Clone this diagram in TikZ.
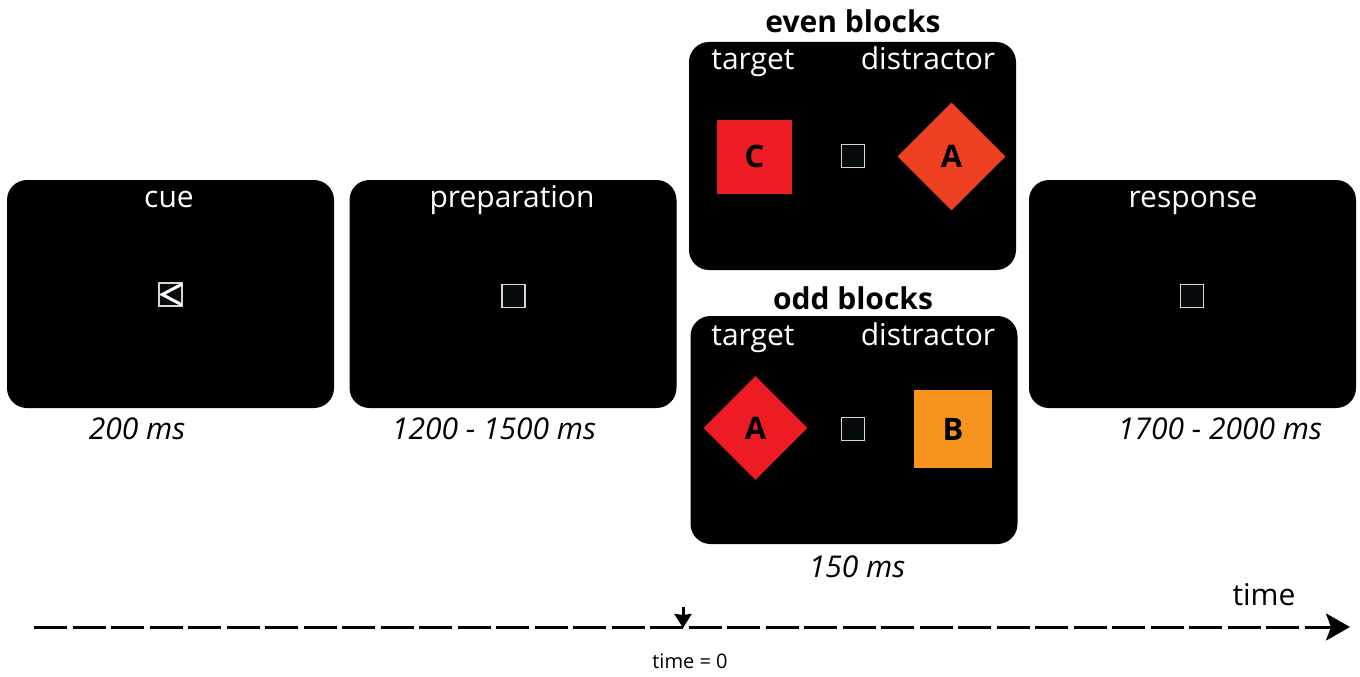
\documentclass[tikz,border=0pt]{standalone}
\usepackage{fontspec}
\setmainfont{Open Sans}
\usepackage{xcolor}
\definecolor{stimRed}{RGB}{237, 28, 36}
\definecolor{stimVermilion}{RGB}{239, 64, 35}
\definecolor{stimOrange}{RGB}{247, 148, 29}
\definecolor{fixGrey}{RGB}{214, 214, 214}
\definecolor{fixFill}{RGB}{6, 11, 13}
\usetikzlibrary{positioning,shapes,arrows.meta}

\tikzset{
  screen/.style={fill=black, rounded corners=20pt, minimum width=327pt, minimum height=228pt, inner sep=0pt},
  screenlabel/.style={text=white, font=\fontsize{30}{36}\selectfont, inner sep=0pt, anchor=base},
  blocklabel/.style={font=\fontsize{30}{36}\selectfont\bfseries, inner sep=0pt, anchor=base},
  duration/.style={font=\fontsize{30}{36}\selectfont\itshape, inner sep=0pt, anchor=base},
  fixation/.style={draw=fixGrey, fill=fixFill, line width=1.5pt, minimum size=23pt, inner sep=0pt},
  squarestim/.style={rectangle, minimum size=76pt, inner sep=0pt, font=\fontsize{31}{36}\selectfont\bfseries},
  diamondstim/.style={diamond, aspect=1, inner sep=0pt, font=\fontsize{31}{36}\selectfont\bfseries}
}

\begin{document}
\begin{tikzpicture}[x=1pt, y=-1pt]
\useasboundingbox (0,0) rectangle (1360,677);

% screens
\node[screen] (cue)  at (170.5,294) {};
\node[screen] (prep) at (513,294) {};
\node[screen] (even) at (852.5,156) {};
\node[screen] (odd)  at (854,430) {};
\node[screen] (resp) at (1192.5,294) {};

\node[screenlabel] at (169,207) {cue};
\node[screenlabel] at (512,207) {preparation};
\node[screenlabel] at (1193,207) {response};
\node[screenlabel] at (753,70) {target};
\node[screenlabel] at (928,70) {distractor};
\node[screenlabel] at (753,345) {target};
\node[screenlabel] at (928,345) {distractor};

\node[blocklabel] at (853,33) {even blocks};
\node[blocklabel] at (853,309) {odd blocks};

% fixation and cue
\node[fixation] (cueicon) at (170.5,294.5) {};
\draw[white, line width=3pt, line join=miter]
  ([shift={(-1,2)}]cueicon.north east) -- ([shift={(4,0)}]cueicon.west) -- ([shift={(-1,-2)}]cueicon.south east);
\node[fixation] (prepfix) at (513.5,296) {};
\node[fixation] (respfix) at (1192,296) {};
\node[fixation] (evenfix) at (853,156) {};
\node[fixation] (oddfix)  at (853,429) {};

% stimuli
\node[squarestim, fill=stimRed, minimum width=75pt, minimum height=74pt] (evenC) at (754.5,156.5) {C};
\node[diamondstim, fill=stimVermilion, minimum size=108pt] (evenA) at (951.5,156.5) {A};
\node[diamondstim, fill=stimRed, minimum size=104pt] (oddA) at (755.5,428) {A};
\node[squarestim, fill=stimOrange, minimum size=78pt] (oddB) at (953,429) {B};

% durations
\node[duration] at (137,439) {200 ms};
\node[duration] at (494,439) {1200 - 1500 ms};
\node[duration] at (857,577) {150 ms};
\node[duration] at (1220,439) {1700 - 2000 ms};

% time axis
\coordinate (tstart) at (34,627);
\coordinate (tend) at (1350,627);
\coordinate (tzero) at (683,628);
\coordinate (tmark) at (683,607);
\draw[line width=3pt, dash pattern=on 33pt off 5.5pt, -{Stealth[length=24pt, width=27pt, inset=5pt]}] (tstart) -- (tend);
\draw[line width=3pt, -{Stealth[length=14pt, width=17pt, inset=1pt]}] (tmark) -- (tzero);
\node[font=\fontsize{30}{36}\selectfont, inner sep=0pt, anchor=base] at (1264,605) {time};
\node[font=\fontsize{20}{24}\selectfont, inner sep=0pt, anchor=base] at (690,668) {time = 0};
\end{tikzpicture}
\end{document}
